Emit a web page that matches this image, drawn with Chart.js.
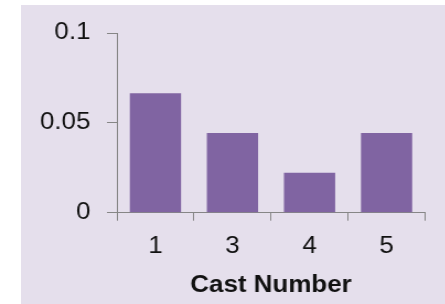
<!DOCTYPE html>
<html>
<head>
<meta charset="utf-8">
<script src="https://cdn.jsdelivr.net/npm/chart.js@4"></script>
<style>
  html, body { margin: 0; padding: 0; background: #ffffff; overflow: hidden; }
  #panel { position: absolute; left: 21px; top: 5px; right: 0; bottom: 0; background: #e5dfec; }
  /* the source picture is stretched ~1.1x horizontally, so the chart is too */
  #wrap { position: absolute; left: 0; top: 0; width: 404.5px; height: 304px;
          transform: scaleX(1.1); transform-origin: 0 0; }
</style>
</head>
<body>
<div id="panel"></div>
<div id="wrap"><canvas id="castChart"></canvas></div>
<script>
// Chart data
const categories = ['1', '3', '4', '5'];
const castValues = [0.0665, 0.0443, 0.0222, 0.0443];
const yTicks = [0, 0.05, 0.1];

const axisGray = '#868686';
const tickFont = { family: 'Liberation Sans, Arial, sans-serif', size: 23.5 };

const ctx = document.getElementById('castChart').getContext('2d');
new Chart(ctx, {
    type: 'bar',
    data: {
        labels: categories,
        datasets: [{
            data: castValues,
            backgroundColor: '#8064a2',
            borderWidth: 0,
            categoryPercentage: 1,
            barPercentage: 0.665
        }]
    },
    options: {
        responsive: true,
        maintainAspectRatio: false,
        animation: false,
        layout: { padding: { top: 33, right: 19, left: 0, bottom: 0 } },
        plugins: { legend: { display: false }, tooltip: { enabled: false } },
        scales: {
            x: {
                grid: { drawOnChartArea: false, drawTicks: true, tickLength: 8, color: axisGray, offset: true },
                border: { color: axisGray },
                ticks: { color: '#111', font: tickFont, padding: 12 },
                title: {
                    display: true,
                    text: 'Cast Number',
                    color: '#111',
                    font: { family: 'Liberation Sans, Arial, sans-serif', size: 23.5, weight: 'bold' },
                    padding: { top: 4, bottom: 4 }
                },
                afterFit: function(scale) { scale.height = 91.3; }
            },
            y: {
                min: 0,
                max: 0.1,
                afterBuildTicks: function(scale) {
                    scale.ticks = yTicks.map(v => ({ value: v }));
                },
                grid: { drawOnChartArea: false, drawTicks: true, tickLength: 9, color: axisGray },
                border: { color: axisGray },
                ticks: {
                    color: '#111',
                    font: tickFont,
                    padding: 15,
                    callback: function(value) { return String(value); }
                },
                afterFit: function(scale) { scale.width = 106; }
            }
        }
    }
});
</script>
</body>
</html>
